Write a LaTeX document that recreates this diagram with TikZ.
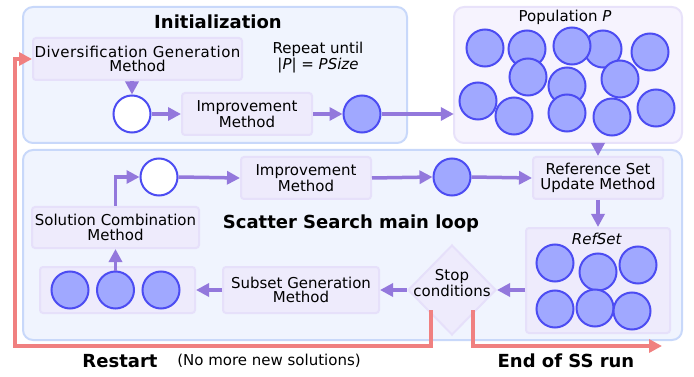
\documentclass[tikz,border=0pt]{standalone}
\usepackage{fontspec}
\setmainfont{DejaVu Sans}
\usetikzlibrary{shapes.geometric,arrows.meta}
\definecolor{contfill}{HTML}{F0F4FE}
\definecolor{contline}{HTML}{C8D8FA}
\definecolor{popfill}{HTML}{F6F3FE}
\definecolor{popline}{HTML}{E8E2FA}
\definecolor{mfill}{HTML}{EEEBFC}
\definecolor{mline}{HTML}{E6E0FA}
\definecolor{solfill}{HTML}{A0A8FF}
\definecolor{solline}{HTML}{4C4CF2}
\definecolor{flow}{HTML}{9378DC}
\definecolor{redflow}{HTML}{F08080}
\tikzset{
  container/.style={draw=contline, fill=contfill, line width=2pt, rounded corners=10pt},
  popbox/.style={draw=popline, fill=popfill, line width=2pt, rounded corners=10pt},
  method/.style={draw=mline, fill=mfill, line width=2pt, rounded corners=3pt,
    align=center, inner sep=0pt, font=\fontsize{15}{14.5}\selectfont},
  sol/.style={circle, draw=solline, fill=solfill, line width=2pt, minimum size=37pt, inner sep=0pt},
  emptysol/.style={sol, fill=white},
  flowarrow/.style={draw=flow, line width=3.5pt, -{Triangle[length=13pt,width=13pt]}},
  redarrow/.style={draw=redflow, line width=3.5pt, -{Triangle[length=13pt,width=13pt]}},
  title/.style={font=\fontsize{18}{18}\selectfont\bfseries},
  txt/.style={font=\fontsize{15}{16}\selectfont, align=center, inner sep=0pt},
}
\begin{document}
\begin{tikzpicture}[x=1pt, y=-1pt]
\useasboundingbox (0,0) rectangle (694,377);

% containers
\draw[container] (23,7) rectangle (407,143);
\draw[popbox] (454,7) rectangle (682,143);
\draw[container] (23,150) rectangle (682,340);
\node (pop) at (568,75) [minimum width=228pt, minimum height=136pt, inner sep=0pt] {};

% initialization phase
\node[title] (inittitle) at (218,22) {Initialization};
\node[method, minimum width=209pt, minimum height=42pt] (dgm) at (137.5,59)
  {{\addfontfeature{LetterSpace=2.8}Diversification Generation}\\Method};
\node[txt] (repeat) at (318,58) {Repeat until\\{|}\textit{P}{|} = \textit{PSize}};
\node[emptysol] (wc1) at (132,114) {};
\node[method, minimum width=130pt, minimum height=42pt] (imp1) at (247,114) {Improvement\\Method};
\node[sol] (fc1) at (362,114) {};

\draw[flowarrow] (dgm.south -| wc1) -- (wc1.north);
\draw[flowarrow] (wc1.east) -- (imp1.west);
\draw[flowarrow] (imp1.east) -- (fc1.west);
\draw[flowarrow] (fc1.east) -- (pop.west |- fc1);

% population
\node[txt] (poptitle) at (565,17) {Population \textit{P}};
\foreach \i/\cx/\cy in {1/485/48, 2/527/49, 3/603/49, 4/572/46, 5/650/52, 6/528/77,
  7/567/86, 8/620/79, 9/478/101, 10/514/116, 11/567/113, 12/612/117, 13/656/108}
  \node[sol] (p\i) at (\cx,\cy) {};

% main loop
\node[title] (looptitle) at (351,224) {Scatter Search main loop};
\node[method, minimum width=130pt, minimum height=42pt] (rsu) at (598,178) {Reference Set\\Update Method};
\node[sol] (fc2) at (452,177) {};
\node[method, minimum width=130pt, minimum height=42pt] (imp2) at (306,178) {Improvement\\Method};
\node[emptysol] (wc2) at (159,177) {};

\node[method, minimum width=144pt, minimum height=105pt] (refset) at (598,280.5) {};
\node[txt] (reftitle) at (597,239) {\textit{RefSet}};
\foreach \i/\cx/\cy in {1/555/263, 2/598/272, 3/638/265, 4/555/309, 5/595/308, 6/632/311}
  \node[sol] (r\i) at (\cx,\cy) {};

\node[diamond, draw=mline, fill=mfill, line width=2pt, minimum width=88pt, minimum height=90pt, inner sep=0pt] (stop) at (452,290) {};
\node[txt, font=\fontsize{15}{14.5}\selectfont] (stoptext) at (452,283) {Stop\\conditions};

\node[method, minimum width=156pt, minimum height=46pt] (subset) at (301,290) {Subset Generation\\Method};
\node[method, minimum width=155pt, minimum height=46pt] (group) at (117.5,290) {};
\node[sol] (g1) at (70,290) {};
\node[sol] (g2) at (115.5,290) {};
\node[sol] (g3) at (161,290) {};
\node[method, minimum width=167pt, minimum height=41pt] (scm) at (115.5,227.5) {Solution Combination\\Method};

\draw[flowarrow] (pop.south -| rsu) -- (rsu.north);
\draw[flowarrow] (rsu.south) -- (refset.north);
\draw[flowarrow] (refset.west |- stop) -- (stop.east);
\draw[flowarrow] (stop.west) -- (subset.east);
\draw[flowarrow] (subset.west) -- (group.east);
\draw[flowarrow] (g2.north) -- (scm.south);
\draw[flowarrow] (scm.north) |- (wc2.west);
\draw[flowarrow] (wc2.east) -- (imp2.west);
\draw[flowarrow] (imp2.east) -- (fc2.west);
\draw[flowarrow] (fc2.east) -- (rsu.west);

% exits from the stop test
\coordinate (rs0) at (431,310);
\coordinate (rs1) at (431,346);
\coordinate (rs2) at (15,346);
\coordinate (en0) at (473,310);
\coordinate (en1) at (473,346);
\coordinate (en2) at (662,346);
\draw[redarrow, line join=miter] (rs0) -- (rs1) -- (rs2) |- (dgm.west);
\draw[redarrow, line join=miter] (en0) -- (en1) -- (en2);

\node[title] (restart) at (120,361) {Restart};
\node[txt] (nomore) at (269,361) {(No more new solutions)};
\node[title] (endrun) at (566,361) {End of SS run};
\end{tikzpicture}
\end{document}
